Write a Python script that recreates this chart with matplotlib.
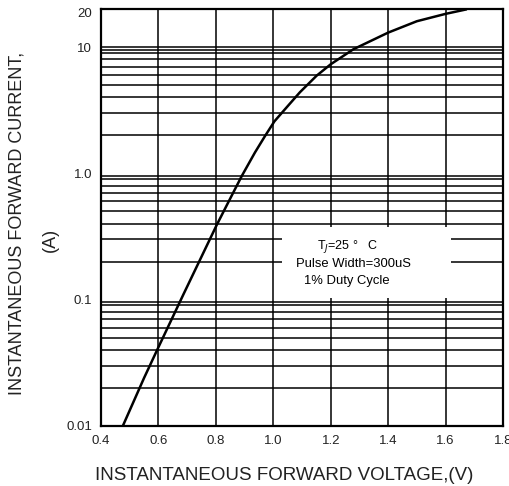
import numpy as np
import matplotlib.pyplot as plt
from matplotlib.patches import Rectangle

plt.rcParams['font.family'] = ['Liberation Sans', 'DejaVu Sans']

# curve
volts = [0.476, 0.55, 0.60, 0.687, 0.803, 0.843, 0.89, 0.936, 0.971, 1.004,
         1.052, 1.093, 1.151, 1.20, 1.279, 1.40, 1.50, 1.60, 1.67]
amps = [0.010, 0.024, 0.042, 0.11, 0.39, 0.588, 0.95, 1.46, 1.97, 2.58,
        3.44, 4.39, 5.93, 7.3, 9.6, 13.0, 16.0, 18.3, 19.8]

x_ticks = [0.4, 0.6, 0.8, 1.0, 1.2, 1.4, 1.6, 1.8]
x_labels = ['0.4', '0.6', '0.8', '1.0', '1.2', '1.4', '1.6', '1.8']
y_ticks = [0.01, 0.1, 1.0, 10]
y_labels = ['0.01', '0.1', '1.0', '10']

fig = plt.figure(figsize=(5.09, 4.86), dpi=100)
ax = fig.add_axes([0.1984, 0.1235, 0.7898, 0.858])
ax.set_yscale('log')
ax.set_xlim(0.4, 1.8)
ax.set_ylim(0.01, 20)

# grid: decade lines (doubled), minor lines 2..9, vertical lines
for dec in [0.01, 0.1, 1.0]:
    for m in [0.955, 2, 3, 4, 5, 6, 7, 8, 9]:
        ax.axhline(dec * m, color='black', lw=1.1, zorder=1)
ax.axhline(10, color='black', lw=1.1, zorder=1)
ax.axhline(10 * 0.955, color='black', lw=1.1, zorder=1)
for xv in x_ticks[1:-1]:
    ax.axvline(xv, color='black', lw=1.1, zorder=1)

# white box behind the test conditions
ax.add_patch(Rectangle((1.03, 0.1026), 0.588, 0.378 - 0.1026, facecolor='white',
                       edgecolor='none', zorder=2))
ax.text(1.26, 0.262, 'T$_J$=25 °   C', ha='center', va='center', fontsize=9, zorder=3)
ax.text(1.279, 0.193, 'Pulse Width=300uS', ha='center', va='center', fontsize=9.4, zorder=3)
ax.text(1.257, 0.141, '1% Duty Cycle', ha='center', va='center', fontsize=9.4, zorder=3)

ax.plot(volts, amps, color='black', lw=1.8, zorder=4)

ax.set_xticks(x_ticks)
ax.set_xticklabels(x_labels, fontsize=9.5, color='#222222')
ax.set_yticks(y_ticks)
ax.set_yticklabels(y_labels, fontsize=9.5, color='#222222')
ax.minorticks_off()
ax.tick_params(length=0, pad=6.5)
# top label "20" sits a little below the frame in the original
ax.text(-0.0225, 18.3, '20', transform=ax.get_yaxis_transform(), ha='right',
        va='center', fontsize=9.5, color='#222222')
for s in ax.spines.values():
    s.set_linewidth(1.6)

fig.text(0.559, 0.021, 'INSTANTANEOUS FORWARD VOLTAGE,(V)', ha='center', va='center',
         fontsize=13.5, color='#222222')
fig.text(0.033, 0.541, 'INSTANTANEOUS FORWARD CURRENT,', ha='center', va='center',
         rotation=90, fontsize=13, color='#222222')
fig.text(0.098, 0.506, '(A)', ha='center', va='center', rotation=90,
         fontsize=13, color='#222222')

fig.savefig('out.png', dpi=100)
